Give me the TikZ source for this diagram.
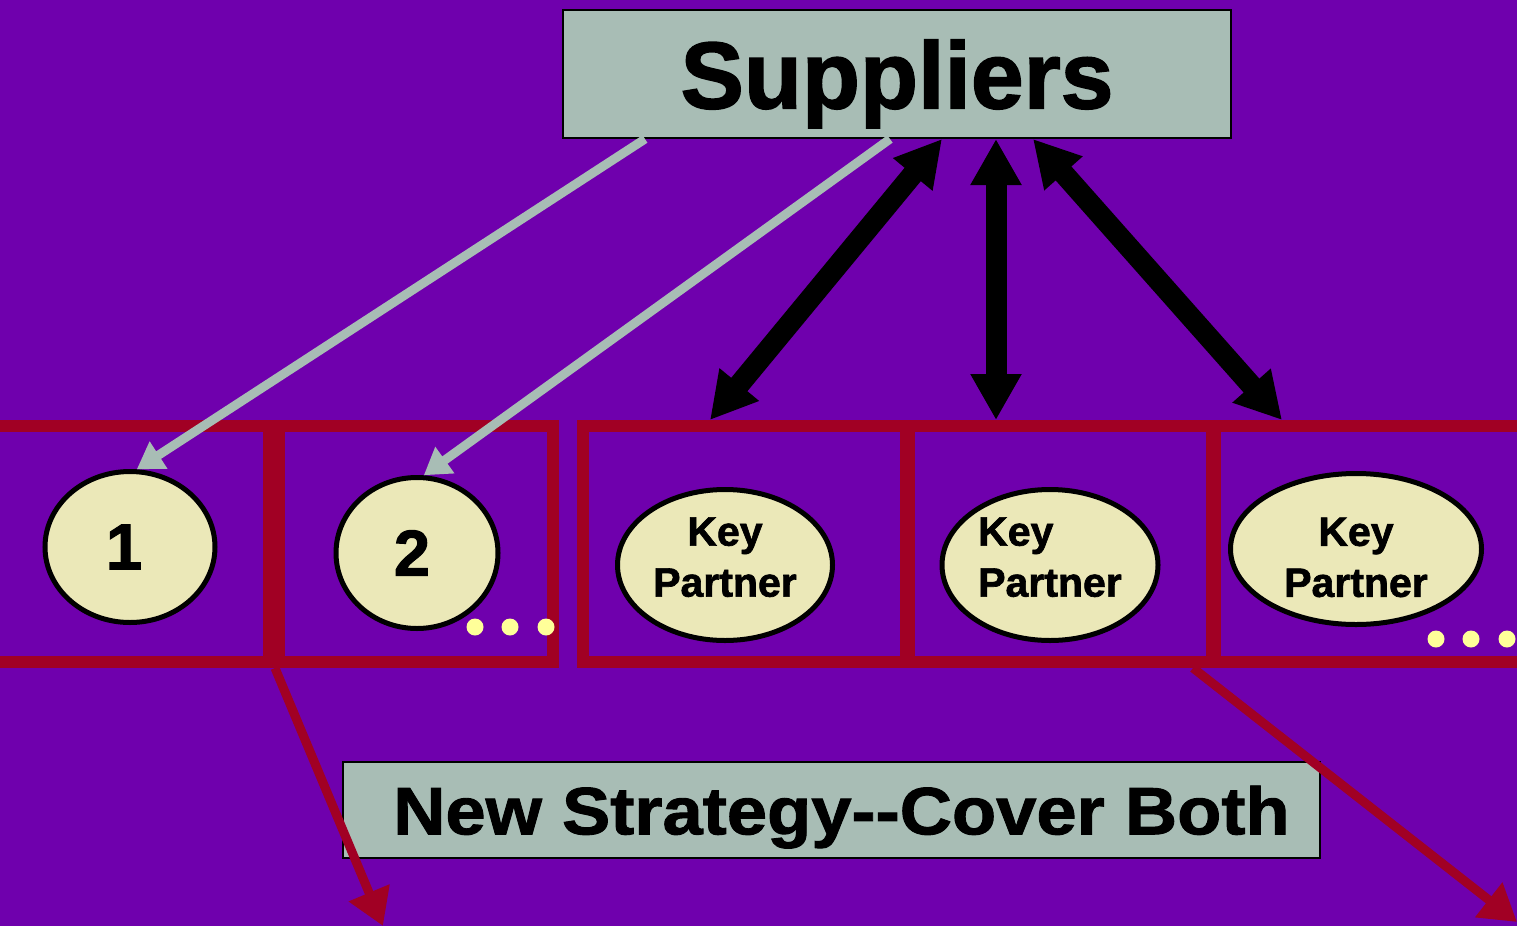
\documentclass[tikz,border=0pt]{standalone}
\usepackage{fontspec}
\setmainfont{Liberation Sans}
\newfontfamily\heavyfont[FakeBold=1.6]{Liberation Sans}
\newfontfamily\stretchfont[FakeStretch=1.08,FakeBold=1.4]{Liberation Sans}
\usetikzlibrary{arrows.meta,shapes.geometric}
\definecolor{bgpurple}{HTML}{6F00AD}
\definecolor{boxgray}{HTML}{A8BDB5}
\definecolor{cream}{HTML}{EBE8B8}
\definecolor{framered}{HTML}{A10024}
\definecolor{dotyellow}{HTML}{FFFF99}
\begin{document}
\begin{tikzpicture}[x=1pt,y=-1pt,
    frame/.style={draw=framered,line width=12pt,rectangle,inner sep=0pt,minimum height=236pt},
    title/.style={draw=black,line width=2pt,fill=boxgray,rectangle,inner sep=0pt,text depth=0pt},
    oval/.style={draw=black,line width=5pt,fill=cream,ellipse,inner sep=0pt,minimum height=151pt,font=\heavyfont\bfseries\fontsize{41}{51}\selectfont,align=center},
    grayarrow/.style={draw=boxgray,line width=9pt,-{Triangle[length=26pt,width=31pt]}},
    duplex/.style={draw=black,line width=21pt,{Triangle[length=46pt,width=48pt]}-{Triangle[length=46pt,width=48pt]}},
    redarrow/.style={draw=framered,line width=9pt,-{Triangle[length=36pt,width=42pt]}}]
    \useasboundingbox (0,0) rectangle (1517,926);
    \fill[bgpurple] (0,0) rectangle (1517,926);
    \node[frame,minimum width=289pt] (fr1) at (124.5,544) {};
    \node[frame,minimum width=274pt] (fr2) at (416,544) {};
    \node[frame,minimum width=323pt] (fr3) at (744.5,544) {};
    \node[frame,minimum width=303pt] (fr4) at (1060.5,544) {};
    \node[frame,minimum width=315pt] (fr5) at (1372.5,544) {};
    \node[oval,minimum width=170pt,font=\heavyfont\bfseries\fontsize{65}{65}\selectfont] (one) at (130,547) {\hspace*{-12pt}1};
    \node[oval,minimum width=162pt,font=\heavyfont\bfseries\fontsize{65}{65}\selectfont] (two) at (417,553) {\hspace*{-10pt}2};
    \node[oval,minimum width=215pt,text depth=16pt] (kp1) at (725,565) {Key\\Partner};
    \node[oval,minimum width=216pt,align=left,text depth=16pt] (kp2) at (1050,565) {Key\\Partner};
    \node[oval,minimum width=251pt,text height=96pt] (kp3) at (1356,549) {Key\\Partner};
    \foreach \x in {475,510,546} \fill[dotyellow] (\x,627) circle[radius=8.5pt];
    \foreach \x in {1436,1471,1507} \fill[dotyellow] (\x,639) circle[radius=8.5pt];
    \node[title,minimum width=668pt,minimum height=128pt,font=\heavyfont\bfseries\fontsize{95}{95}\selectfont] (sup) at (897,74) {Suppliers};
    \node[title,minimum width=977pt,minimum height=96pt,font=\stretchfont\bfseries\fontsize{67}{67}\selectfont] (strat) at (831.5,810) {\hspace*{20pt}New Strategy-{}-Cover Both};
    \coordinate (t1) at ([xshift=-34.5pt]fr3.north);
    \coordinate (t2) at ([xshift=-64.5pt]fr4.north);
    \coordinate (t3) at ([xshift=-90.5pt]fr5.north);
    \coordinate (r1) at (383,926);
    \coordinate (r2) at (1517,922);
    \draw[grayarrow] ([xshift=-252pt]sup.south) -- (one.85);
    \draw[grayarrow] ([xshift=-7pt]sup.south) -- (two.85);
    \draw[duplex] ([xshift=45pt]sup.south) -- (t1);
    \draw[duplex] ([xshift=99pt]sup.south) -- (t2);
    \draw[duplex] ([xshift=136pt]sup.south) -- (t3);
    \draw[redarrow] (fr1.south east) -- (r1);
    \draw[redarrow] ([xshift=-25pt]fr4.south east) -- (r2);
\end{tikzpicture}
\end{document}
